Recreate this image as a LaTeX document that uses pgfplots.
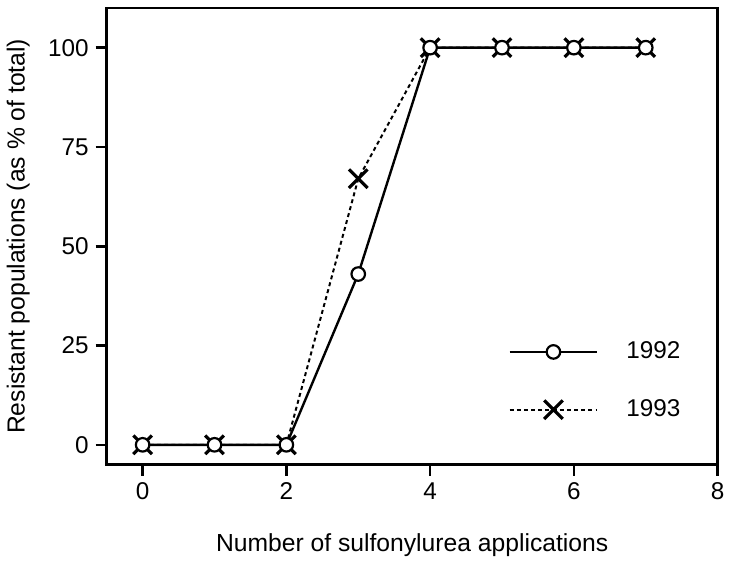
\documentclass[border=0pt]{standalone}
\usepackage{pgfplots}
\pgfplotsset{compat=1.18}
\usepackage{fontspec}
\setmainfont{Liberation Sans}
\begin{document}
\begin{tikzpicture}
\begin{axis}[
    scale only axis,
    width=307pt, height=229.5pt,
    xmin=-0.5, xmax=8, ymin=-5, ymax=110,
    xtick={0,2,4,6,8}, ytick={0,25,50,75,100},
    axis line style={line width=1.4pt},
    tick style={line width=1.3pt, black},
    tick align=outside, major tick length=5.5pt,
    xtick pos=bottom, ytick pos=left,
    xlabel={Number of sulfonylurea applications},
    ylabel={Resistant populations (as \% of total)},
    label style={font=\fontsize{12.4}{14}\selectfont},
    ticklabel style={font=\fontsize{12.2}{14}\selectfont},
    /pgf/number format/assume math mode=true,
    xlabel style={at={(axis description cs:0.5,0)}, anchor=center, yshift=-40.5pt},
    ylabel style={at={(axis description cs:0,0.5)}, anchor=center, yshift=44.5pt},
    legend style={draw=none, fill=none, at={(axis cs:5.0,28)}, anchor=north west,
        font=\fontsize{12.2}{14}\selectfont, row sep=15pt},
    legend cell align=left,
    reverse legend,
    legend image code/.code={
        \draw[#1] (0cm,0cm) -- (1.55cm,0cm);
        \draw[#1, only marks] plot coordinates {(0.775cm,0cm)};
    },
]
% 1993 drawn first so the 1992 circles sit on top
\addplot[black, line width=1pt, dash pattern=on 2pt off 1.6pt, mark=x, mark size=6.6pt, mark options={solid, line width=1.6pt}]
coordinates {(0,0) (1,0) (2,0) (3,67) (4,100) (5,100) (6,100) (7,100)};
\addplot[black, line width=1.2pt, mark=*, mark size=3.4pt, mark options={solid, fill=white, draw=black, line width=1.1pt}]
coordinates {(0,0) (1,0) (2,0) (3,43) (4,100) (5,100) (6,100) (7,100)};
\legend{\hspace{12pt}1993, \hspace{12pt}1992}
\end{axis}
\path ([yshift=4pt]current axis.north);
\end{tikzpicture}
\end{document}
